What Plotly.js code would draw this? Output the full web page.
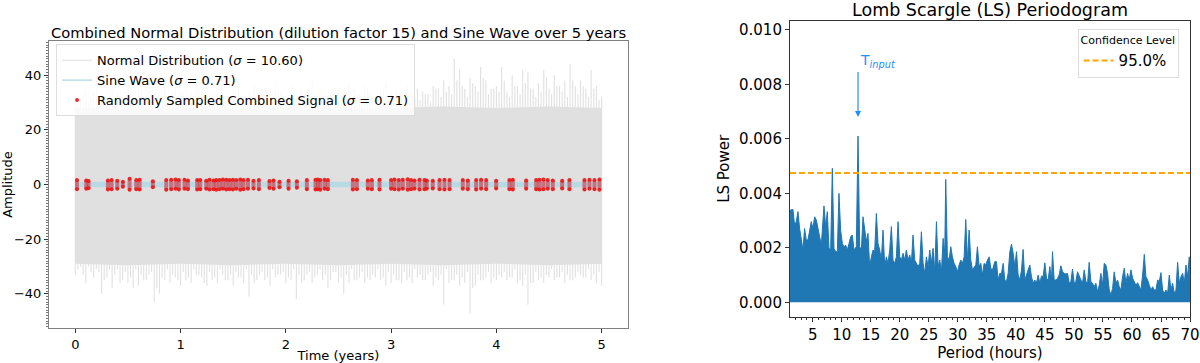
<!DOCTYPE html>
<html>
<head>
<meta charset="utf-8">
<script src="https://cdn.plot.ly/plotly-3.0.1.min.js"></script>
<style>
  body { margin: 0; background: #fff; }
  #chart { width: 1200px; height: 363px; }
</style>
</head>
<body>
<div id="chart"></div>
<script>
// left panel: noise envelope (core band + spike tips)
var coreTime = [0, 0.5, 1, 1.5, 2, 2.5, 3, 3.5, 4, 4.5, 5];
var coreUpper = [28, 27.5, 28, 27.5, 28, 27.5, 28, 28.5, 28, 28.5, 28];
var coreLower = [-29, -29.5, -29, -29.5, -29, -29.5, -29, -29.5, -29, -29.5, -29];

var spikeTime = [0, 0.05, 0.1, 0.15, 0.2, 0.25, 0.3, 0.35, 0.4, 0.45, 0.5, 0.55, 0.6, 0.65, 0.7, 0.75, 0.8, 0.85, 0.9, 0.95,
  1, 1.05, 1.1, 1.15, 1.2, 1.25, 1.3, 1.35, 1.4, 1.45, 1.5, 1.55, 1.6, 1.65, 1.7, 1.75, 1.8, 1.85, 1.9, 1.95,
  2, 2.05, 2.1, 2.15, 2.2, 2.25, 2.3, 2.35, 2.4, 2.45, 2.5, 2.55, 2.6, 2.65, 2.7, 2.75, 2.8, 2.85, 2.9, 2.95,
  3, 3.05, 3.1, 3.15, 3.2, 3.25, 3.3, 3.35, 3.4, 3.45, 3.5, 3.55, 3.6, 3.65, 3.7, 3.75, 3.8, 3.85, 3.9, 3.95,
  4, 4.05, 4.1, 4.15, 4.2, 4.25, 4.3, 4.35, 4.4, 4.45, 4.5, 4.55, 4.6, 4.65, 4.7, 4.75, 4.8, 4.85, 4.9, 4.95, 5];
var spikeHigh = [33, 31, 35, 32, 38, 33, 31, 36, 34, 32, 37, 33, 35, 32, 39, 34, 33, 36, 32, 35,
  34, 38, 33, 35, 32, 36, 34, 33, 37, 32, 35, 40, 33, 34, 36, 32, 35, 33, 38, 34,
  32, 36, 33, 35, 34, 39, 33, 35, 32, 36, 34, 33, 37, 35, 33, 36, 34, 32, 35, 37,
  33, 35, 34, 36, 33, 35, 34, 33, 36, 35, 38, 36, 46, 42, 35, 39, 36, 43, 38, 35,
  36, 43, 34, 40, 36, 42, 41, 35, 37, 42, 35, 40, 36, 38, 44, 36, 38, 35, 42, 36, 32];
var spikeLow = [-33, -30, -36, -32, -31, -40, -34, -38, -31, -35, -36, -38, -37, -35, -33, -43, -40, -35, -36, -34,
  -37, -35, -36, -33, -34, -37, -35, -36, -33, -35, -37, -34, -36, -41, -36, -33, -35, -37, -34, -33,
  -36, -35, -42, -36, -33, -36, -33, -35, -38, -32, -36, -40, -36, -35, -34, -36, -35, -34, -35, -37,
  -36, -35, -36, -35, -36, -34, -35, -33, -37, -35, -44, -36, -35, -37, -36, -47, -37, -35, -34, -36,
  -35, -34, -35, -34, -36, -37, -44, -36, -35, -36, -34, -35, -34, -36, -35, -34, -33, -34, -35, -36, -37];

// smaller spikes in between
var spikeTime2 = [0.025, 0.075, 0.125, 0.175, 0.225, 0.275, 0.325, 0.375, 0.425, 0.475, 0.525, 0.575, 0.625, 0.675, 0.725,
  0.775, 0.825, 0.875, 0.925, 0.975, 1.025, 1.075, 1.125, 1.175, 1.225, 1.275, 1.325, 1.375, 1.425, 1.475, 1.525, 1.575,
  1.625, 1.675, 1.725, 1.775, 1.825, 1.875, 1.925, 1.975, 2.025, 2.075, 2.125, 2.175, 2.225, 2.275, 2.325, 2.375, 2.425,
  2.475, 2.525, 2.575, 2.625, 2.675, 2.725, 2.775, 2.825, 2.875, 2.925, 2.975, 3.025, 3.075, 3.125, 3.175, 3.225, 3.275,
  3.325, 3.375, 3.425, 3.475, 3.525, 3.575, 3.625, 3.675, 3.725, 3.775, 3.825, 3.875, 3.925, 3.975, 4.025, 4.075, 4.125,
  4.175, 4.225, 4.275, 4.325, 4.375, 4.425, 4.475, 4.525, 4.575, 4.625, 4.675, 4.725, 4.775, 4.825, 4.875, 4.925, 4.975];
var spikeHigh2 = [31, 33, 30, 34, 32, 31, 35, 30, 33, 32, 31, 34, 30, 33, 35, 31, 32, 30, 34, 31,
  33, 30, 32, 35, 31, 34, 30, 32, 33, 31, 34, 32, 30, 33, 31, 35, 32, 30, 34, 31,
  32, 33, 31, 30, 34, 32, 35, 31, 33, 30, 32, 34, 31, 33, 30, 35, 32, 31, 34, 32,
  30, 33, 31, 34, 32, 31, 33, 30, 35, 32, 34, 33, 38, 36, 32, 37, 34, 39, 33, 35,
  34, 38, 32, 36, 33, 37, 35, 32, 34, 39, 33, 36, 34, 32, 38, 33, 36, 32, 35, 31];
var spikeLow2 = [-31, -33, -30, -34, -32, -35, -31, -33, -36, -32, -34, -31, -33, -35, -32, -38, -34, -31, -33, -35,
  -32, -34, -31, -33, -36, -32, -34, -31, -35, -33, -32, -34, -31, -33, -35, -32, -34, -31, -33, -32,
  -34, -31, -33, -35, -32, -34, -31, -33, -35, -32, -34, -33, -31, -35, -32, -34, -33, -31, -34, -32,
  -33, -35, -32, -34, -31, -33, -35, -32, -34, -33, -31, -35, -33, -34, -32, -38, -33, -35, -32, -34,
  -33, -32, -34, -31, -35, -33, -36, -32, -34, -33, -31, -34, -32, -33, -35, -32, -34, -31, -33, -32];

// sine wave band (amplitude 1)
var sineTime = [0, 5];
var sineUpper = [1, 1];
var sineLower = [-1, -1];

// randomly sampled clusters: time, lowest and highest value
var sampleTime = [0.016, 0.104, 0.126, 0.31, 0.345, 0.399, 0.452, 0.516, 0.579, 0.611, 0.737, 0.864, 0.911, 0.953, 0.984,
  1.038, 1.07, 1.158, 1.187, 1.244, 1.275, 1.313, 1.339, 1.37, 1.402, 1.434, 1.465, 1.497, 1.529, 1.567, 1.598, 1.64,
  1.693, 1.744, 1.845, 1.883, 1.94, 2.026, 2.105, 2.2, 2.282, 2.304, 2.327, 2.368, 2.399,
  2.637, 2.675, 2.779, 2.817, 2.89, 3.0, 3.032, 3.073, 3.111, 3.159, 3.19, 3.222, 3.27, 3.317, 3.339, 3.396, 3.46,
  3.507, 3.555, 3.681, 3.729, 3.808, 3.855, 3.903, 3.998, 4.124, 4.156, 4.283, 4.378, 4.409, 4.447, 4.488, 4.536,
  4.625, 4.694, 4.837, 4.884, 4.932, 4.979];
var sampleHigh = [1.6, 1.5, 1.3, 1.5, 1.6, 1.4, 1.0, 2.1, 1.6, 1.7, 1.2, 1.6, 1.7, 1.8, 1.6,
  1.7, 1.5, 1.6, 1.6, 1.4, 1.7, 1.5, 1.6, 1.6, 1.8, 1.7, 1.6, 1.7, 1.6, 1.8, 1.6, 1.7,
  1.4, 1.6, 1.3, 1.5, 1.0, 1.4, 1.2, 1.6, 1.7, 1.8, 1.6, 1.7, 1.6,
  1.7, 1.6, 1.5, 1.6, 1.7, 1.6, 1.8, 1.6, 1.7, 1.9, 1.6, 1.5, 1.7, 1.6, 1.5, 1.4, 1.6,
  1.7, 1.6, 1.6, 1.5, 1.6, 1.7, 1.6, 1.4, 1.6, 1.7, 1.5, 1.6, 1.7, 1.8, 1.6, 1.5,
  1.4, 1.6, 1.6, 1.7, 1.6, 1.8];
var sampleLow = [-1.7, -1.6, -1.4, -1.8, -1.7, -1.6, -0.8, -1.9, -1.7, -1.8, -1.0, -1.9, -1.7, -1.6, -1.8,
  -1.6, -1.7, -1.8, -1.7, -1.6, -1.8, -1.7, -1.9, -1.7, -1.6, -1.8, -1.7, -1.8, -1.6, -1.9, -1.7, -1.6,
  -1.5, -1.7, -1.3, -1.6, -1.0, -1.6, -1.2, -1.7, -1.8, -1.7, -1.9, -1.6, -1.7,
  -1.8, -1.7, -1.6, -1.7, -1.8, -1.6, -1.7, -1.8, -1.6, -1.9, -1.7, -1.6, -1.8, -1.7, -1.6, -1.5, -1.7,
  -1.8, -1.7, -1.6, -1.7, -1.8, -1.6, -1.7, -1.5, -1.7, -1.8, -1.6, -1.7, -1.8, -1.7, -1.6, -1.7,
  -1.5, -1.7, -1.8, -1.6, -1.7, -1.9];

// right panel: LS periodogram envelope (period in hours, power)
var periods = [1.10, 1.20, 1.60, 1.89, 2.18, 2.47, 2.75, 3.04, 3.33, 3.61, 3.90, 4.19, 4.48, 4.76, 5.05, 5.34, 5.63, 5.91,
  6.20, 6.49, 6.95, 7.24, 7.52, 7.81, 8.10, 8.39, 8.67, 8.96, 9.25, 9.53, 9.82, 10.11, 10.40, 10.68, 10.97, 11.26,
  11.55, 11.83, 12.12, 12.52, 12.81, 13.10, 13.39, 13.67, 13.96, 14.25, 14.53, 14.82, 15.11, 15.40, 15.68, 15.97,
  16.26, 16.55, 16.83, 17.12, 17.41, 17.70, 17.98, 18.27, 18.56, 18.84, 19.13, 19.42, 19.71, 19.99, 20.28, 20.57,
  20.86, 21.14, 21.43, 21.72, 22.00, 22.29, 22.58, 22.87, 23.15, 23.44, 23.73, 24.02, 24.30, 24.59, 24.88, 25.17,
  25.45, 25.74, 26.03, 26.32, 26.60, 26.89, 27.18, 27.47, 27.75, 27.92, 28.21, 28.50, 28.79, 29.07, 29.36, 29.65,
  29.94, 30.22, 30.51, 30.80, 31.09, 31.37, 31.66, 31.95, 32.24, 32.52, 32.81, 33.10, 33.38, 33.67, 33.96, 34.25,
  34.53, 34.82, 35.11, 35.40, 35.68, 35.97, 36.37, 36.66, 36.94, 37.23, 37.52, 37.81, 38.09, 38.38, 38.67, 38.96,
  39.24, 39.53, 39.82, 40.11, 40.39, 40.68, 40.97, 41.25, 41.54, 41.83, 42.12, 42.40, 42.69, 42.98, 43.27, 43.55,
  43.84, 44.13, 44.42, 44.70, 44.99, 45.28, 45.56, 45.85, 46.14, 46.31, 46.60, 46.89, 47.17, 47.46, 47.75, 48.04,
  48.32, 48.61, 48.90, 49.19, 49.47, 49.76, 50.05, 50.33, 50.62, 50.91, 51.20, 51.48, 51.77, 52.06, 52.35, 52.63,
  52.92, 53.21, 53.50, 53.78, 54.07, 54.36, 54.65, 54.93, 55.22, 55.51, 55.79, 56.08, 56.37, 56.66, 56.94, 57.23,
  57.52, 57.81, 58.09, 58.38, 58.67, 58.96, 59.24, 59.53, 59.82, 60.11, 60.39, 60.68, 60.97, 61.25, 61.54, 61.83,
  62.12, 62.40, 62.69, 62.98, 63.27, 63.55, 63.84, 64.13, 64.42, 64.70, 64.99, 65.28, 65.56, 65.85, 66.14, 66.43,
  66.71, 67.00, 67.29, 67.58, 67.86, 68.15, 68.44, 68.73, 69.01, 69.30, 69.59, 69.87, 70.05];
var lsPower = [0.00290, 0.00339, 0.00341, 0.00284, 0.00296, 0.00333, 0.00271, 0.00235, 0.00192, 0.00271, 0.00229, 0.00229,
  0.00265, 0.00296, 0.00271, 0.00314, 0.00302, 0.00265, 0.00241, 0.00210, 0.00354, 0.00278, 0.00333, 0.00198, 0.00192,
  0.00492, 0.00198, 0.00186, 0.00186, 0.00400, 0.00265, 0.00216, 0.00204, 0.00210, 0.00192, 0.00216, 0.00241, 0.00247,
  0.00192, 0.00204, 0.00610, 0.00204, 0.00192, 0.00314, 0.00265, 0.00223, 0.00253, 0.00131, 0.00167, 0.00192, 0.00186,
  0.00326, 0.00216, 0.00192, 0.00155, 0.00265, 0.00131, 0.00167, 0.00143, 0.00192, 0.00278, 0.00155, 0.00143, 0.00167,
  0.00296, 0.00167, 0.00155, 0.00180, 0.00155, 0.00192, 0.00155, 0.00174, 0.00143, 0.00247, 0.00155, 0.00143, 0.00131,
  0.00143, 0.00259, 0.00143, 0.00106, 0.00167, 0.00131, 0.00192, 0.00143, 0.00198, 0.00112, 0.00296, 0.00131, 0.00155,
  0.00112, 0.00235, 0.00180, 0.00451, 0.00167, 0.00155, 0.00204, 0.00167, 0.00143, 0.00131, 0.00112, 0.00137, 0.00155,
  0.00143, 0.00167, 0.00304, 0.00155, 0.00265, 0.00155, 0.00119, 0.00131, 0.00137, 0.00204, 0.00131, 0.00143, 0.00100,
  0.00143, 0.00137, 0.00155, 0.00167, 0.00125, 0.00119, 0.00149, 0.00149, 0.00082, 0.00106, 0.00106, 0.00143, 0.00082,
  0.00076, 0.00106, 0.00186, 0.00213, 0.00180, 0.00131, 0.00186, 0.00100, 0.00082, 0.00119, 0.00194, 0.00082, 0.00100,
  0.00125, 0.00137, 0.00094, 0.00070, 0.00082, 0.00070, 0.00100, 0.00070, 0.00097, 0.00094, 0.00145, 0.00088, 0.00082,
  0.00131, 0.00082, 0.00186, 0.00082, 0.00082, 0.00088, 0.00100, 0.00134, 0.00112, 0.00106, 0.00104, 0.00106, 0.00070,
  0.00076, 0.00122, 0.00070, 0.00076, 0.00112, 0.00094, 0.00082, 0.00070, 0.00119, 0.00076, 0.00070, 0.00147, 0.00076,
  0.00070, 0.00057, 0.00070, 0.00039, 0.00063, 0.00106, 0.00063, 0.00143, 0.00137, 0.00106, 0.00045, 0.00027, 0.00051,
  0.00112, 0.00070, 0.00082, 0.00057, 0.00045, 0.00094, 0.00125, 0.00070, 0.00106, 0.00082, 0.00119, 0.00088, 0.00076,
  0.00063, 0.00072, 0.00057, 0.00045, 0.00100, 0.00176, 0.00094, 0.00082, 0.00063, 0.00045, 0.00057, 0.00045, 0.00045,
  0.00082, 0.00076, 0.00109, 0.00045, 0.00033, 0.00045, 0.00033, 0.00100, 0.00045, 0.00070, 0.00033, 0.00045, 0.00147,
  0.00070, 0.00094, 0.00106, 0.00070, 0.00137, 0.00094, 0.00167, 0.00033];

var confidenceLevel = 0.00475;
var inputPeriod = 12.81;

var periodRange = [1.09, 70];
var font = "DejaVu Sans, sans-serif";

// build vertical segments from base to tip
function segments(xs, lo, hi) {
  var x = [], y = [];
  xs.forEach(function (t, i) {
    x.push(t, t, null);
    y.push(lo[i], hi[i], null);
  });
  return { x: x, y: y };
}
function zerosLike(a) { return a.map(function () { return 0; }); }
var allSpikeTime = spikeTime.concat(spikeTime2);
var upSp = segments(allSpikeTime, zerosLike(allSpikeTime), spikeHigh.concat(spikeHigh2));
var dnSp = segments(allSpikeTime, zerosLike(allSpikeTime), spikeLow.concat(spikeLow2));
var clus = segments(sampleTime, sampleLow, sampleHigh);

var grey = "#e0e0e0";
var data = [
  { // noise core band
    x: coreTime.concat(coreTime.slice().reverse()),
    y: coreUpper.concat(coreLower.slice().reverse()),
    fill: "toself", fillcolor: grey, mode: "lines", line: { width: 0 },
    showlegend: false, hoverinfo: "skip", xaxis: "x", yaxis: "y"
  },
  { // noise spikes (top)
    x: upSp.x, y: upSp.y, mode: "lines", line: { color: grey, width: 1.1 },
    name: "Normal Distribution (<i>σ</i> = 10.60)", legendgroup: "n",
    hoverinfo: "skip", xaxis: "x", yaxis: "y"
  },
  {
    x: dnSp.x, y: dnSp.y, mode: "lines", line: { color: grey, width: 1.1 },
    showlegend: false, legendgroup: "n", hoverinfo: "skip", xaxis: "x", yaxis: "y"
  },
  { // sine band
    x: sineTime.concat(sineTime.slice().reverse()),
    y: sineUpper.concat(sineLower.slice().reverse()),
    fill: "toself", fillcolor: "rgba(173,216,230,0.8)", mode: "lines", line: { width: 0 },
    showlegend: false, hoverinfo: "skip", xaxis: "x", yaxis: "y"
  },
  {
    x: [null], y: [null], mode: "lines", line: { color: "rgb(173,216,230)", width: 1.2 },
    name: "Sine Wave (<i>σ</i> = 0.71)", xaxis: "x", yaxis: "y"
  },
  { // sampled clusters
    x: clus.x, y: clus.y, mode: "lines", line: { color: "rgba(205,60,70,0.65)", width: 4 },
    showlegend: false, hoverinfo: "skip", xaxis: "x", yaxis: "y"
  },
  {
    x: sampleTime.concat(sampleTime), y: sampleHigh.concat(sampleLow),
    mode: "markers", marker: { color: "rgba(235,20,20,0.9)", size: 4 },
    name: "Randomly Sampled Combined Signal (<i>σ</i> = 0.71)",
    hoverinfo: "skip", xaxis: "x", yaxis: "y"
  },
  { // periodogram
    x: periods, y: lsPower, mode: "lines", fill: "tozeroy",
    line: { color: "#1f77b4", width: 1 }, fillcolor: "#1f77b4",
    showlegend: false, xaxis: "x2", yaxis: "y2"
  },
  {
    x: periodRange, y: [confidenceLevel, confidenceLevel], mode: "lines",
    line: { color: "orange", width: 2, dash: "6px,3px" },
    name: "95.0%", legend: "legend2", xaxis: "x2", yaxis: "y2"
  }
];

var axisBase = {
  showgrid: false, zeroline: false, showline: true, mirror: true,
  linecolor: "#333", linewidth: 1, ticks: "outside", ticklen: 4, tickcolor: "#333",
  tickfont: { family: font, size: 13, color: "#000" }
};

var layout = {
  width: 1200, height: 363,
  margin: { l: 0, r: 0, t: 0, b: 0 },
  paper_bgcolor: "#fff", plot_bgcolor: "#fff",
  font: { family: font, color: "#000" },
  xaxis: Object.assign({}, axisBase, {
    domain: [0.0408, 0.5233], range: [-0.25, 5.25], dtick: 1, tick0: 0, linecolor: "#808080",
    title: { text: "Time (years)", font: { size: 13 }, standoff: 0 }
  }),
  yaxis: Object.assign({}, axisBase, {
    domain: [0.0964, 0.8871], range: [-52.5, 52.5], dtick: 20, tick0: 0, linecolor: "#808080",
    minor: { dtick: 1, ticklen: 2, tickcolor: "#777", ticks: "outside" },
    title: { text: "Amplitude", font: { size: 13 }, standoff: 5 }
  }),
  xaxis2: Object.assign({}, axisBase, {
    anchor: "y2", domain: [0.6583, 0.9917], range: periodRange, dtick: 5, tick0: 0,
    tickfont: { family: font, size: 15, color: "#000" },
    minor: { dtick: 1, ticklen: 2, tickcolor: "#333", ticks: "outside" },
    title: { text: "Period (hours)", font: { size: 15 }, standoff: 4 }
  }),
  yaxis2: Object.assign({}, axisBase, {
    anchor: "x2", domain: [0.1267, 0.943], range: [-0.00054, 0.01034], dtick: 0.002,
    tickformat: ".3f", tickfont: { family: font, size: 15, color: "#000" },
    title: { text: "LS Power", font: { size: 15 }, standoff: 5 }
  }),
  legend: {
    x: 0.0467, y: 0.878, xanchor: "left", yanchor: "top",
    bgcolor: "rgba(255,255,255,0.8)", bordercolor: "#ddd", borderwidth: 1,
    font: { family: font, size: 13 }, tracegroupgap: 0
  },
  legend2: {
    x: 0.898, y: 0.92, xanchor: "left", yanchor: "top",
    bgcolor: "rgba(255,255,255,0.8)", bordercolor: "#ddd", borderwidth: 1,
    title: { text: "Confidence Level", font: { family: font, size: 11 } },
    font: { family: font, size: 15 }
  },
  annotations: [
    {
      text: "Combined Normal Distribution (dilution factor 15) and Sine Wave over 5 years",
      xref: "paper", yref: "paper", x: 0.282, y: 1 - 32 / 363, xanchor: "center", yanchor: "middle",
      showarrow: false, font: { family: font, size: 14.7 }
    },
    {
      text: "Lomb Scargle (LS) Periodogram",
      xref: "paper", yref: "paper", x: 0.825, y: 1 - 10 / 363, xanchor: "center", yanchor: "middle",
      showarrow: false, font: { family: font, size: 17.5 }
    },
    {
      text: "T<sub><i>input</i></sub>", xref: "x2", yref: "y2",
      x: inputPeriod, y: 0.0068, ax: inputPeriod, ay: 0.00846, axref: "x2", ayref: "y2",
      xanchor: "left", yanchor: "bottom", showarrow: true, arrowhead: 2, arrowsize: 1,
      arrowwidth: 1.2, arrowcolor: "dodgerblue", font: { family: font, size: 14, color: "dodgerblue" }
    }
  ]
};

Plotly.newPlot("chart", data, layout, { displayModeBar: false, staticPlot: true });
</script>
</body>
</html>
